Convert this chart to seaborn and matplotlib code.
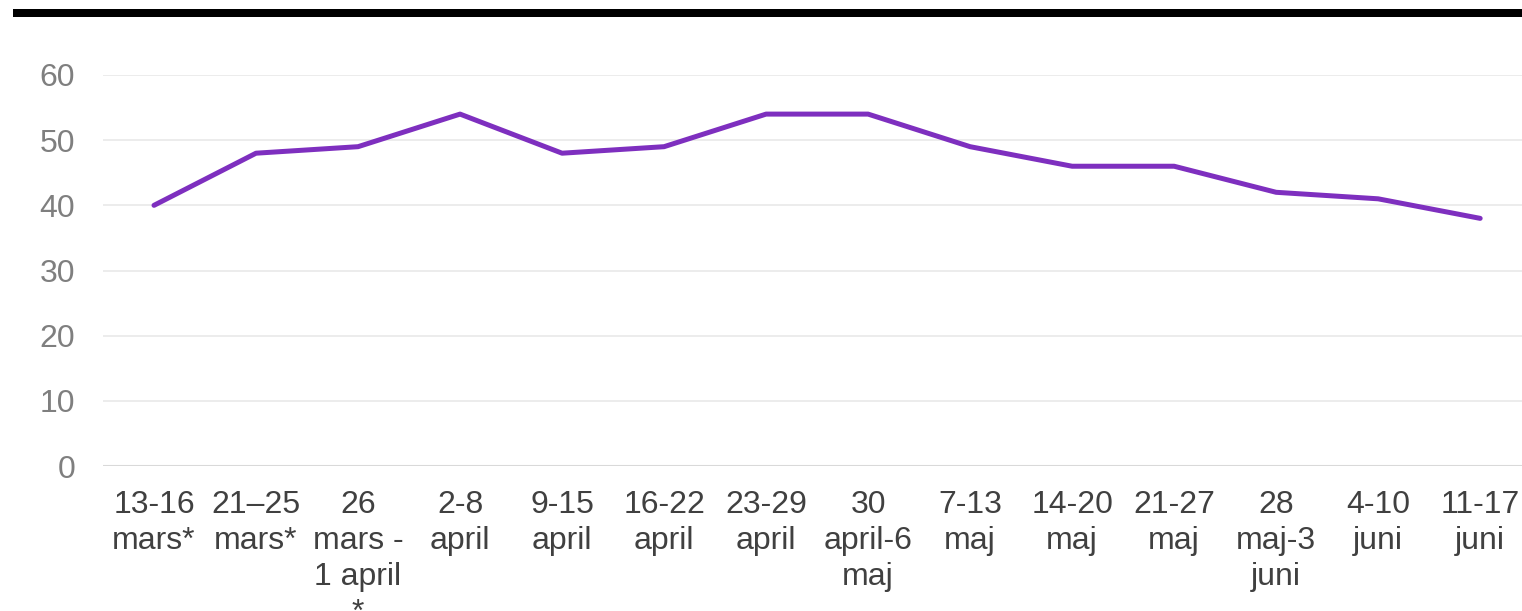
import pandas as pd
import seaborn as sns
import matplotlib.pyplot as plt
from matplotlib.patches import Rectangle

# weeks (x labels, wrapped like the original) and values
weeks = ["13-16\nmars*", "21\u201325\nmars*", "26\nmars -\n1 april\n*", "2-8\napril",
         "9-15\napril", "16-22\napril", "23-29\napril", "30\napril-6\nmaj",
         "7-13\nmaj", "14-20\nmaj", "21-27\nmaj", "28\nmaj-3\njuni",
         "4-10\njuni", "11-17\njuni"]
values = [40, 48, 49, 54, 48, 49, 54, 54, 49, 46, 46, 42, 41, 38]
yticks = [0, 10, 20, 30, 40, 50, 60]

df = pd.DataFrame({"week": weeks, "value": values})
df["pos"] = range(len(df))

sns.set_style("white")
plt.rcParams['font.family'] = ['Liberation Sans', 'DejaVu Sans']

fig = plt.figure(figsize=(15.22, 6.11), dpi=100)
ax = fig.add_axes([103/1522, 145/611, 1 - 103/1522, 391/611])

# thick black bar across the top
fig.add_artist(Rectangle((13/1522, (611-17)/611), 1 - 13/1522, 8/611,
                         transform=fig.transFigure, color="black", lw=0))

sns.lineplot(data=df, x="pos", y="value", ax=ax, color="#7E2FBF", linewidth=3.6, sort=False)

ax.set_ylim(0, 60)
ax.set_xlim(-0.5, 13.41)
ax.set_yticks(yticks)
ax.set_xticks(df["pos"])
ax.set_xticklabels(weeks, fontsize=23, color="#404040", linespacing=1.27)
ax.tick_params(axis="y", labelsize=23, labelcolor="#7f7f7f", length=0, pad=20)
ax.tick_params(axis="x", length=0, pad=17)
for lab in ax.get_xticklabels():
    lab.set_verticalalignment("top")
    lab.set_horizontalalignment("center")

ax.grid(axis="y", color="#ebebeb", linewidth=1.3)
ax.set_axisbelow(True)
for s in ax.spines.values():
    s.set_visible(False)
ax.axhline(0, color="#d9d9d9", linewidth=1.5, zorder=1)
ax.set_xlabel("")
ax.set_ylabel("")

fig.savefig("out.png", dpi=100)
